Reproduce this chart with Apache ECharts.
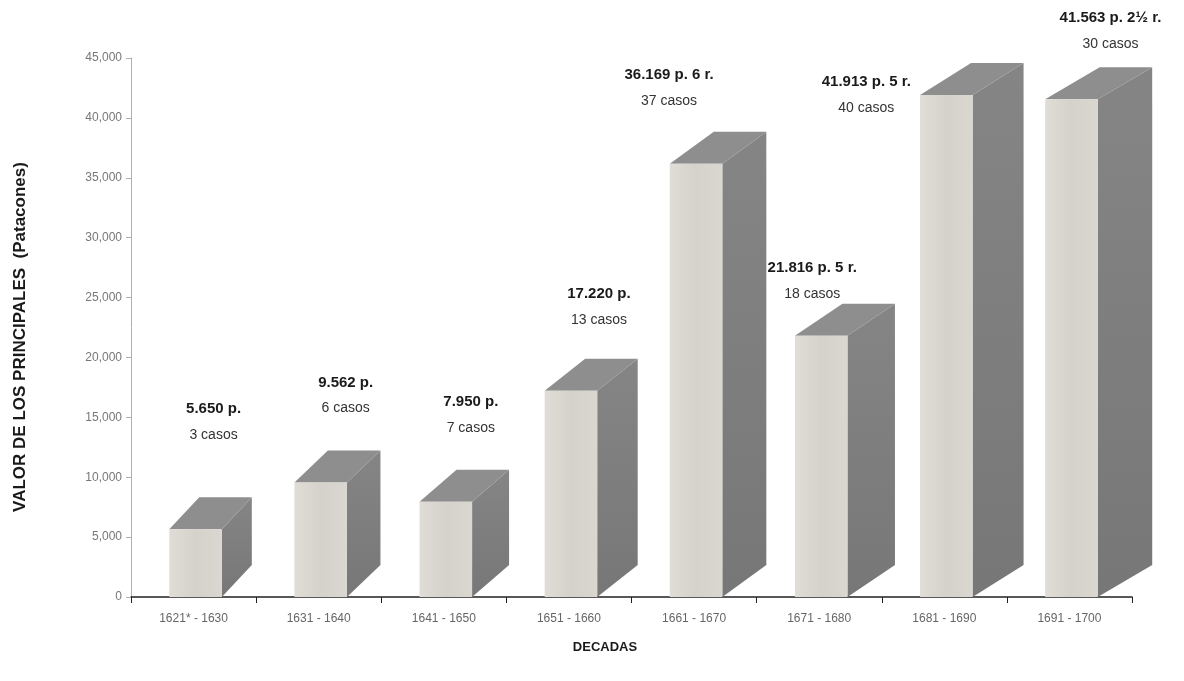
<!DOCTYPE html>
<html>
<head>
<meta charset="utf-8">
<script src="https://cdn.jsdelivr.net/npm/echarts@6/dist/echarts.min.js"></script>
<style>
  html, body { margin: 0; padding: 0; background: #fff; }
  #chart { width: 1184px; height: 681px; }
</style>
</head>
<body>
<div id="chart"></div>
<script>
// datos: valor de los principales por década
const decadas = ['1621* - 1630', '1631 - 1640', '1641 - 1650', '1651 - 1660',
  '1661 - 1670', '1671 - 1680', '1681 - 1690', '1691 - 1700'];
const valores = [5650, 9562, 7950, 17220, 36169, 21816, 41913, 41563];
const etiquetaValor = ['5.650 p.', '9.562 p.', '7.950 p.', '17.220 p.',
  '36.169 p. 6 r.', '21.816 p. 5 r.', '41.913 p. 5 r.', '41.563 p. 2½ r.'];
const etiquetaCasos = ['3 casos', '6 casos', '7 casos', '13 casos',
  '37 casos', '18 casos', '40 casos', '30 casos'];
const yTicks = [0, 5000, 10000, 15000, 20000, 25000, 30000, 35000, 40000, 45000];

// desplazamiento de cada etiqueta (px) respecto al techo de la barra
const labelShift = [[2, -88], [9, -68], [9, -68], [12, -65],
  [-43, -57], [-25, -36], [-96, 19], [23, -49]];

const FONT = '"Liberation Sans Narrow", "Liberation Sans", Arial, sans-serif';

const chart = echarts.init(document.getElementById('chart'));

function renderBar(params, api) {
  const i = api.value(0);
  const v = api.value(1);
  const base = api.coord([i, 0]);
  const top = api.coord([i, v]);
  const band = api.size([1, 0])[0];
  const bw = band * 0.42;
  const x0 = base[0] - bw / 2 + 2;
  // perspectiva: el lateral se ensancha hacia la derecha
  const dx = 30 + (x0 - 170) * 0.028;
  const dy = 32;
  const yb = base[1];
  const yt = top[1];
  const sh = labelShift[i];
  const lx = x0 + bw / 2 + 16 + sh[0];
  const ly = yt - dy + sh[1];
  return {
    type: 'group',
    children: [
      {
        type: 'polygon',
        shape: { points: [[x0 + bw, yt], [x0 + bw + dx, yt - dy], [x0 + bw + dx, yb - dy], [x0 + bw, yb]] },
        style: { fill: new echarts.graphic.LinearGradient(0, 0, 0, 1, [
          { offset: 0, color: '#858585' }, { offset: 1, color: '#777' }]) }
      },
      {
        type: 'polygon',
        shape: { points: [[x0, yt], [x0 + bw, yt], [x0 + bw + dx, yt - dy], [x0 + dx, yt - dy]] },
        style: { fill: '#8e8e8e' }
      },
      {
        type: 'rect',
        shape: { x: x0, y: yt, width: bw, height: yb - yt },
        style: { fill: new echarts.graphic.LinearGradient(0, 0, 1, 0, [
          { offset: 0, color: '#e0ddd7' }, { offset: 0.5, color: '#d5d2cc' }, { offset: 1, color: '#dad7d1' }]) }
      },
      {
        type: 'text',
        style: { text: etiquetaValor[i], x: lx, y: ly, align: 'center', verticalAlign: 'middle',
          fill: '#1a1a1a', font: 'bold 15px ' + FONT }
      },
      {
        type: 'text',
        style: { text: etiquetaCasos[i], x: lx, y: ly + 26, align: 'center', verticalAlign: 'middle',
          fill: '#333', font: '14px ' + FONT }
      }
    ]
  };
}

chart.setOption({
  backgroundColor: '#fff',
  animation: false,
  grid: { left: 131, right: 52, top: 58, bottom: 84 },
  graphic: [
    {
      type: 'text', x: 20, y: 337, rotation: Math.PI / 2,
      style: { text: 'VALOR DE LOS PRINCIPALES  (Patacones)', align: 'center', verticalAlign: 'middle',
        fill: '#1a1a1a', font: 'bold 17px ' + FONT }
    },
    {
      type: 'text', x: 605, y: 647,
      style: { text: 'DECADAS', align: 'center', verticalAlign: 'middle',
        fill: '#1a1a1a', font: 'bold 13px ' + FONT }
    }
  ],
  xAxis: {
    type: 'category',
    data: decadas,
    axisLine: { lineStyle: { color: '#222', width: 1.5 } },
    axisTick: { show: true, length: 6, lineStyle: { color: '#222' } },
    axisLabel: { color: '#666', fontSize: 12, margin: 16, fontFamily: FONT }
  },
  yAxis: {
    type: 'value',
    min: 0,
    max: yTicks[yTicks.length - 1],
    interval: yTicks[1] - yTicks[0],
    axisLine: { show: true, lineStyle: { color: '#b0b0b0' } },
    axisTick: { show: true, length: 5, lineStyle: { color: '#b0b0b0' } },
    splitLine: { show: false },
    axisLabel: {
      color: '#777', fontSize: 12, margin: 9, fontFamily: FONT,
      formatter: v => v.toLocaleString('en-US')
    }
  },
  series: [{
    type: 'custom',
    renderItem: renderBar,
    clip: false,
    encode: { x: 0, y: 1 },
    data: valores.map((v, i) => [i, v])
  }]
});
</script>
</body>
</html>
